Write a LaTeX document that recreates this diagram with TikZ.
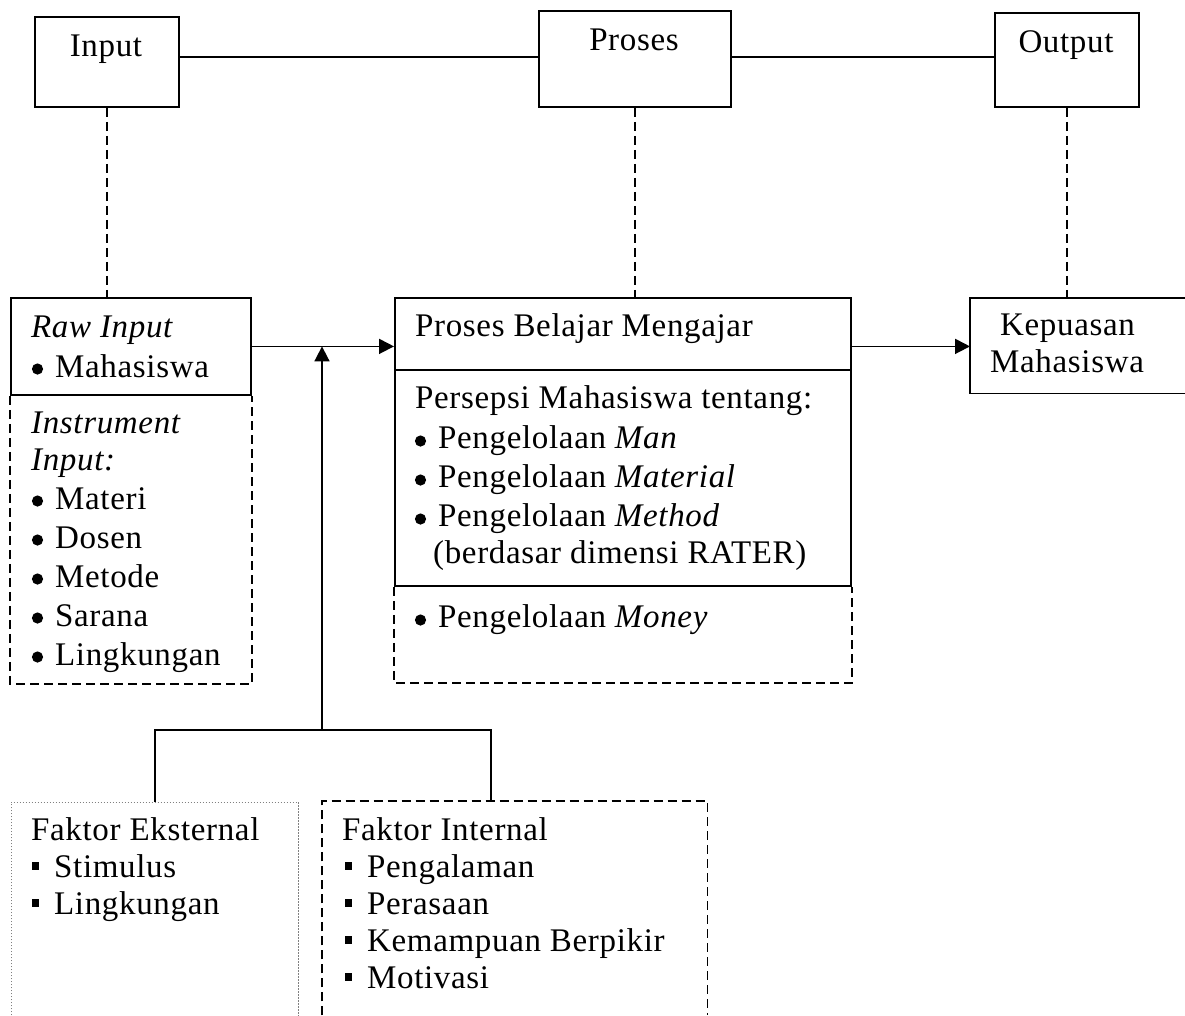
\documentclass[tikz,border=0pt]{standalone}
\usepackage{fontspec}
\setmainfont{Liberation Serif}[LetterSpace=2]
\usetikzlibrary{arrows.meta}

\begin{document}
\begin{tikzpicture}[x=1pt,y=-1pt,
    box/.style={draw,line width=1.8pt,inner sep=0pt,anchor=north west},
    area/.style={inner sep=0pt,anchor=north west},
    conn/.style={line width=1.8pt},
    dconn/.style={line width=1.7pt,dash pattern=on 9pt off 5pt},
    dotline/.style={line width=0.8pt,gray,dash pattern=on 1.5pt off 1.5pt},
    arr/.style={conn,-{Triangle[length=15pt,width=15pt]}},
    txt/.style={anchor=base west,inner sep=0pt},
    ctxt/.style={anchor=base,inner sep=0pt},
    font=\fontsize{33}{39}\selectfont
    ]
    \useasboundingbox (0,0) rectangle (1185,1015);

    % top row
    \node[box,minimum width=144pt,minimum height=90pt] (input) at (34,16) {};
    \node[box,minimum width=192pt,minimum height=96pt] (proses) at (538,10) {};
    \node[box,minimum width=144pt,minimum height=94pt] (output) at (994,12) {};
    \node[ctxt] (tinput) at (106,56) {Input};
    \node[ctxt] (tproses) at (634,50) {Proses};
    \node[ctxt] (toutput) at (1066,52) {Output};
    \coordinate (row) at (0,57);
    \draw[conn] (input.east |- row) -- (proses.west |- row);
    \draw[conn] (proses.east |- row) -- (output.west |- row);

    % middle row
    \node[box,minimum width=240pt,minimum height=97pt] (raw) at (10,297) {};
    \node[box,minimum width=456pt,minimum height=72pt] (pbm) at (394,297) {};
    \node[box,minimum width=456pt,minimum height=216pt] (persepsi) at (394,369) {};
    \node[area,minimum width=215pt,minimum height=95pt] (kepuasan) at (970,298) {};
    \draw[dconn] (raw.south west) -- ++(0,288) -| (raw.south east);
    \draw[dconn] (persepsi.south west) -- ++(0,96) -| (persepsi.south east);
    \draw[conn] (kepuasan.north east) -| (kepuasan.south west) -- (kepuasan.south east);

    \draw[dconn] (input.south) -- (input.south |- raw.north);
    \draw[dconn] (proses.south) -- (proses.south |- pbm.north);
    \draw[dconn] (output.south) -- (output.south |- kepuasan.north);
    \draw[arr] (raw.east) -- (raw.east -| pbm.west);
    \draw[arr] (raw.east -| pbm.east) -- (raw.east -| kepuasan.west);

    % raw input
    \node[txt] (traw) at (31,337) {\textit{Raw Input}};
    \fill (37.5,369) circle (5.6);
    \node[txt] (tmhs) at (55,377) {Mahasiswa};
    \node[txt] (tinst) at (31,433) {\textit{Instrument}};
    \node[txt] (tinst2) at (31,470) {\textit{Input:}};
    \foreach \t [count=\i from 0] in {Materi,Dosen,Metode,Sarana,Lingkungan}{
        \fill (37.5,501+39*\i) circle (5.6);
        \node[txt] (ri\i) at (55,509+39*\i) {\t};
    }

    % proses belajar mengajar
    \node[txt] (tpbm) at (415,336) {Proses Belajar Mengajar};
    \node[txt] (tpersepsi) at (415,408) {Persepsi Mahasiswa tentang:};
    \foreach \t [count=\i from 0] in {Man,Material,Method}{
        \fill (420.5,441+39*\i) circle (5.6);
        \node[txt] (pi\i) at (438,448+39*\i) {Pengelolaan \textit{\t}};
    }
    \node[txt] (trater) at (433,563) {(berdasar dimensi RATER)};
    \fill (420.5,620) circle (5.6);
    \node[txt] (tmoney) at (438,627) {Pengelolaan \textit{Money}};

    % output
    \node[txt] (tkep) at (1000,335) {Kepuasan};
    \node[txt] (tkep2) at (990,372) {Mahasiswa};

    % faktor
    \node[area,minimum width=287pt,minimum height=213pt] (eksternal) at (11,802) {};
    \node[area,minimum width=385pt,minimum height=214pt] (internal) at (322,801) {};
    \draw[dotline] (eksternal.south west) |- (eksternal.north east) -- (eksternal.south east);
    \draw[dconn] (internal.south west) |- (internal.north east) -- (internal.south east);
    \coordinate (junc) at (322,730);
    \coordinate (injoin) at (491,801);
    \draw[conn] (eksternal.north) |- (junc) -| (injoin);
    \draw[arr] (junc) -- (junc |- raw.east);

    \node[txt] (teks) at (31,840) {Faktor Eksternal};
    \foreach \t [count=\i from 0] in {Stimulus,Lingkungan}{
        \fill (32,862+37*\i) rectangle ++(7,8);
        \node[txt] (ek\i) at (54,877+37*\i) {\t};
    }
    \node[txt] (tint) at (342,840) {Faktor Internal};
    \foreach \t [count=\i from 0] in {Pengalaman,Perasaan,Kemampuan Berpikir,Motivasi}{
        \fill (345,862+37*\i) rectangle ++(7,8);
        \node[txt] (in\i) at (367,877+37*\i) {\t};
    }
\end{tikzpicture}
\end{document}
